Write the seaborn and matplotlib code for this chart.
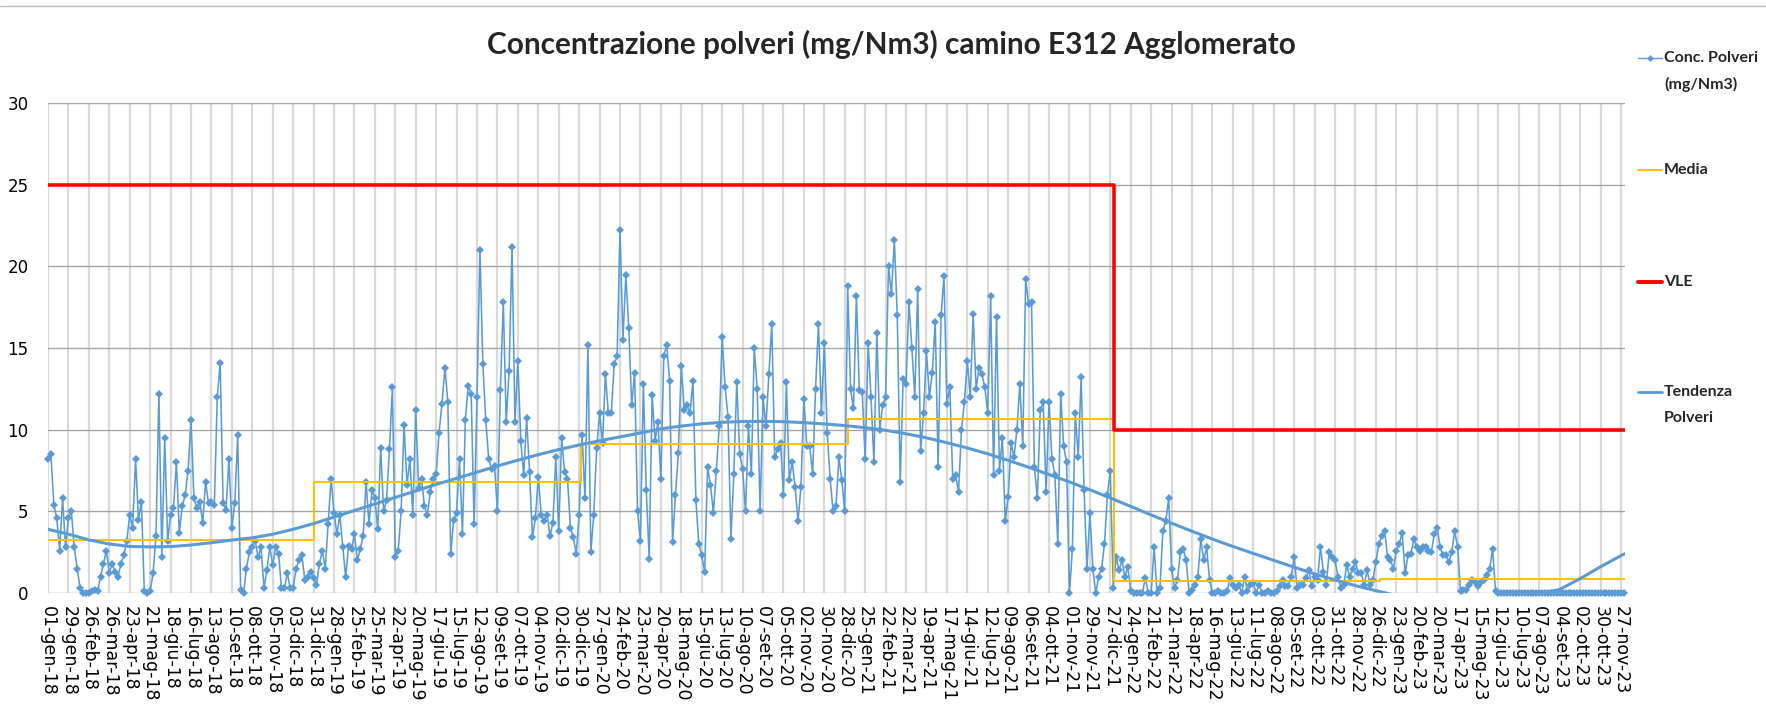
import numpy as np
import pandas as pd
import matplotlib
matplotlib.use("Agg")
import matplotlib.pyplot as plt
import seaborn as sns
from matplotlib.lines import Line2D
from matplotlib import font_manager

# ------------------------------------------------------------------ data
START = "2018-01-01"
STEP = "4D"          # one reading every 4 days
END = "2023-12-02"

TITLE = "Concentrazione polveri (mg/Nm3) camino E312 Agglomerato"
MESI = ["gen", "feb", "mar", "apr", "mag", "giu", "lug", "ago", "set", "ott", "nov", "dic"]

# concentration (mg/Nm3), one row = 28 days
conc_values = [
    8.2, 8.5, 5.4, 4.6, 2.6, 5.8, 2.8,
    4.6, 5.0, 2.8, 1.5, 0.3, 0.0, 0.0,
    0.0, 0.1, 0.2, 0.1, 1.0, 1.8, 2.6,
    1.2, 1.8, 1.3, 1.0, 1.8, 2.3, 3.2,
    4.8, 4.0, 8.2, 4.5, 5.6, 0.1, 0.0,
    0.1, 1.2, 3.5, 12.2, 2.2, 9.5, 3.2,
    4.8, 5.2, 8.0, 3.7, 5.3, 6.0, 7.5,
    10.6, 5.8, 5.2, 5.6, 4.3, 6.8, 5.5,
    5.6, 5.4, 12.0, 14.1, 5.5, 5.1, 8.2,
    4.0, 5.5, 9.7, 0.2, 0.0, 1.5, 2.5,
    2.8, 3.2, 2.2, 2.8, 0.3, 1.4, 2.8,
    1.7, 2.8, 2.4, 0.3, 0.3, 1.2, 0.3,
    0.3, 1.5, 2.0, 2.3, 0.8, 1.0, 1.3,
    0.9, 0.5, 1.8, 2.6, 1.5, 4.2, 7.0,
    4.9, 3.6, 4.8, 2.8, 1.0, 2.9, 2.7,
    3.6, 2.0, 2.7, 3.5, 6.8, 4.2, 6.3,
    5.8, 3.9, 8.9, 5.0, 5.7, 8.8, 12.6,
    2.2, 2.6, 5.0, 10.3, 6.6, 8.2, 4.8,
    11.2, 6.4, 7.0, 5.3, 4.8, 6.2, 7.0,
    7.3, 9.8, 11.6, 13.8, 11.7, 2.4, 4.5,
    4.9, 8.2, 3.6, 10.6, 12.7, 12.2, 4.2,
    12.0, 21.0, 14.0, 10.6, 8.2, 7.6, 7.8,
    5.0, 12.4, 17.8, 10.5, 13.6, 21.2, 10.5,
    14.2, 9.3, 7.2, 10.7, 7.4, 3.4, 4.6,
    7.1, 4.8, 4.4, 4.8, 3.5, 4.3, 8.3,
    3.8, 9.5, 7.4, 7.0, 4.0, 3.4, 2.4,
    4.8, 9.7, 5.8, 15.2, 2.5, 4.8, 8.9,
    11.0, 9.2, 13.4, 11.0, 11.0, 14.0, 14.5,
    22.2, 15.5, 19.5, 16.2, 11.5, 13.5, 5.0,
    3.2, 12.8, 6.3, 2.1, 12.1, 9.3, 10.5,
    7.0, 14.5, 15.2, 13.0, 3.1, 6.0, 8.6,
    13.9, 11.2, 11.5, 11.0, 13.0, 5.7, 3.0,
    2.3, 1.3, 7.7, 6.6, 4.9, 7.5, 10.2,
    15.7, 12.6, 10.8, 3.3, 7.3, 12.9, 8.5,
    7.6, 5.0, 10.2, 7.3, 15.0, 12.5, 5.0,
    12.0, 10.2, 13.4, 16.5, 8.3, 8.8, 9.2,
    6.0, 12.9, 6.9, 8.0, 6.5, 4.4, 6.5,
    11.9, 9.0, 9.0, 7.3, 12.5, 16.5, 11.0,
    15.3, 9.8, 7.0, 5.0, 5.3, 8.3, 6.9,
    5.0, 18.8, 12.5, 11.3, 18.2, 12.4, 12.3,
    8.2, 15.3, 12.0, 8.0, 15.9, 10.0, 11.5,
    12.0, 20.0, 18.3, 21.6, 17.0, 6.8, 13.1,
    12.8, 17.8, 15.0, 12.0, 18.6, 8.7, 11.0,
    14.8, 12.0, 13.5, 16.6, 7.7, 17.0, 19.4,
    11.6, 12.6, 7.0, 7.2, 6.2, 10.0, 11.7,
    14.2, 12.0, 17.1, 12.5, 13.8, 13.4, 12.6,
    11.0, 18.2, 7.2, 16.9, 7.5, 9.5, 4.4,
    5.9, 9.2, 8.3, 10.0, 12.8, 9.0, 19.2,
    17.7, 17.8, 7.7, 5.8, 11.2, 11.7, 6.2,
    11.7, 8.2, 7.2, 3.0, 12.2, 9.0, 8.0,
    0.0, 2.7, 11.0, 8.3, 13.2, 6.3, 1.5,
    4.9, 1.5, 0.0, 1.0, 1.5, 3.0, 6.0,
    7.5, 0.3, 2.2, 1.4, 2.0, 1.0, 1.6,
    0.1, 0.0, 0.0, 0.0, 0.0, 0.9, 0.0,
    0.0, 2.8, 0.0, 0.3, 3.8, 4.4, 5.8,
    1.5, 0.3, 0.8, 2.5, 2.7, 2.0, 0.0,
    0.2, 0.5, 1.0, 3.3, 2.0, 2.8, 0.8,
    0.0, 0.0, 0.1, 0.0, 0.0, 0.1, 0.9,
    0.5, 0.3, 0.5, 0.0, 1.0, 0.1, 0.5,
    0.6, 0.0, 0.5, 0.0, 0.0, 0.1, 0.0,
    0.0, 0.1, 0.4, 0.8, 0.4, 0.4, 1.0,
    2.2, 0.3, 0.5, 0.5, 0.9, 1.4, 0.4,
    1.0, 0.8, 2.8, 1.3, 0.5, 2.5, 2.2,
    2.0, 1.0, 0.3, 0.5, 1.7, 1.0, 1.5,
    1.9, 1.2, 1.2, 0.5, 1.4, 0.5, 0.8,
    1.9, 3.0, 3.5, 3.8, 2.2, 2.0, 1.5,
    2.6, 3.0, 3.7, 1.2, 2.3, 2.4, 3.3,
    2.8, 2.6, 2.8, 2.8, 2.6, 2.5, 3.6,
    4.0, 2.8, 2.3, 2.3, 1.9, 2.5, 3.8,
    2.8, 0.1, 0.2, 0.2, 0.5, 0.8, 0.7,
    0.4, 0.7, 0.8, 1.1, 1.5, 2.7, 0.1,
    0.0, 0.0, 0.0, 0.0, 0.0, 0.0, 0.0,
    0.0, 0.0, 0.0, 0.0, 0.0, 0.0, 0.0,
    0.0, 0.0, 0.0, 0.0, 0.0, 0.0, 0.0,
    0.0, 0.0, 0.0, 0.0, 0.0, 0.0, 0.0,
    0.0, 0.0, 0.0, 0.0, 0.0, 0.0, 0.0,
    0.0, 0.0, 0.0, 0.0, 0.0, 0.0, 0.0,
    0.0, 0.0,
]

# yearly mean (Media)
media_dates = ["2018-01-01", "2019-01-01", "2020-01-01", "2021-01-01",
               "2022-01-01", "2023-01-01", END]
media_values = [3.25, 6.82, 9.10, 10.67, 0.73, 0.84, 0.84]

# emission limit (VLE)
vle_dates = ["2018-01-01", "2022-01-01", END]
vle_values = [25, 10, 10]

# trend (Tendenza Polveri), one value every 28 days + final point
trend_values = [
    3.90, 3.60, 3.25, 3.00, 2.85, 2.82, 2.84, 2.94, 3.08, 3.24,
    3.38, 3.60, 3.90, 4.25, 4.65, 5.05, 5.45, 5.85, 6.25, 6.65,
    7.02, 7.40, 7.78, 8.13, 8.47, 8.78, 9.06, 9.32, 9.56, 9.80,
    10.05, 10.22, 10.36, 10.45, 10.50, 10.51, 10.49, 10.43, 10.35, 10.25,
    10.12, 9.96, 9.75, 9.50, 9.20, 8.88, 8.52, 8.12, 7.70, 7.25,
    6.80, 6.32, 5.82, 5.30, 4.78, 4.27, 3.78, 3.30, 2.85, 2.42,
    2.00, 1.58, 1.17, 0.80, 0.45, 0.14, -0.15, -0.40, -0.60, -0.72,
    -0.75, -0.68, -0.50, -0.05, 0.22, 0.88, 1.61, 2.29, 2.40,
]

LEGEND = ["Conc. Polveri\n(mg/Nm3)", "Media", "VLE", "Tendenza\nPolveri"]

# ------------------------------------------------------------------ style
BLUE = "#5B9BD5"
YELLOW = "#FFC000"
RED = "#FF0000"
W, H = 1766, 707

sns.set_style("white")
avail = {f.name for f in font_manager.fontManager.ttflist}
def pick(*names):
    for n in names:
        if n in avail:
            return n
    return "DejaVu Sans"
NARROW = pick("Liberation Sans Narrow", "Lato", "Roboto")
plt.rcParams["font.family"] = ["DejaVu Sans"]

def fx(x):
    return x / W
def fy(y):
    return 1 - y / H

fig = plt.figure(figsize=(W / 100, H / 100), dpi=100)
ax = fig.add_axes([fx(48), fy(593), (1624.7 - 48) / W, (593 - 103) / H])

dates = pd.date_range(START, periods=len(conc_values), freq=STEP)
df = pd.DataFrame({"data": dates, "conc": conc_values})
tick_dates = pd.date_range(START, periods=78, freq="28D")
trend_dates = list(tick_dates) + [pd.Timestamp(END)]

sns.lineplot(data=df, x="data", y="conc", ax=ax, color=BLUE, lw=1.15,
             marker="D", markersize=4.2, markeredgewidth=0, markeredgecolor=BLUE,
             zorder=3, clip_on=False, legend=False)
sns.lineplot(x=pd.to_datetime(media_dates), y=media_values, ax=ax, color=YELLOW,
             lw=1.4, drawstyle="steps-post", zorder=4, legend=False)
sns.lineplot(x=pd.to_datetime(vle_dates), y=vle_values, ax=ax, color=RED,
             lw=2.6, drawstyle="steps-post", zorder=5, legend=False)
sns.lineplot(x=trend_dates, y=trend_values, ax=ax, color=BLUE, lw=2.2,
             zorder=6, legend=False)

ax.set_xlim(pd.Timestamp(START), pd.Timestamp(END))
ax.set_ylim(0, 30)
ax.set_yticks(range(0, 31, 5))
ax.set_xticks(tick_dates)
ax.set_xticklabels([f"{d.day:02d}-{MESI[d.month - 1]}-{d.year % 100:02d}" for d in tick_dates],
                   rotation=-90, ha="center", va="top", fontsize=12.5)
ax.tick_params(axis="x", length=6, width=1.5, color="#D9D9D9", pad=3, labelcolor="#000000")
ax.tick_params(axis="y", length=4, width=1.0, color="#A6A6A6", pad=10, labelsize=12,
               labelcolor="#000000")
ax.set_xlabel("")
ax.set_ylabel("")
ax.set_axisbelow(True)
ax.xaxis.grid(True, color="#D9D9D9", lw=1.6)
ax.yaxis.grid(True, color="#A6A6A6", lw=1.0)
for s in ax.spines.values():
    s.set_visible(False)

# outer frame line at top
fig.add_artist(Line2D([0, 1], [fy(6), fy(6)], color="#BFBFBF", lw=1.0))

# title
t = fig.text(fx(891), fy(44), TITLE, ha="center", va="center", fontsize=20,
             fontweight="bold", family=[NARROW, "DejaVu Sans"])
fig.canvas.draw()
r = fig.canvas.get_renderer()
t.set_fontsize(20 * 808 / t.get_window_extent(r).width)

# legend (manual, placed as in reference)
hx0, hx1 = 1638, 1662
entries = [
    (58, dict(color=BLUE, lw=1.0, marker="D", markersize=3.5, markevery=[1], mew=0), LEGEND[0]),
    (170, dict(color=YELLOW, lw=1.4), LEGEND[1]),
    (282, dict(color=RED, lw=2.8), LEGEND[2]),
    (392, dict(color=BLUE, lw=2.0), LEGEND[3]),
]
probe = fig.text(0, 0, "Conc. Polveri", fontsize=11, fontweight="bold",
                 family=[NARROW, "DejaVu Sans"])
fig.canvas.draw()
lfs = min(11.5, 11 * 96 / probe.get_window_extent(r).width)
probe.remove()
for y, kw, lab in entries:
    fig.add_artist(Line2D([fx(hx0), fx((hx0 + hx1) / 2), fx(hx1)], [fy(y)] * 3, **kw))
    for k, line in enumerate(lab.split("\n")):
        fig.text(fx(1664), fy(y + 26 * k), line, ha="left", va="center", fontsize=lfs,
                 fontweight="bold", family=[NARROW, "DejaVu Sans"], color="#262626")

fig.savefig("out.png", dpi=100)
